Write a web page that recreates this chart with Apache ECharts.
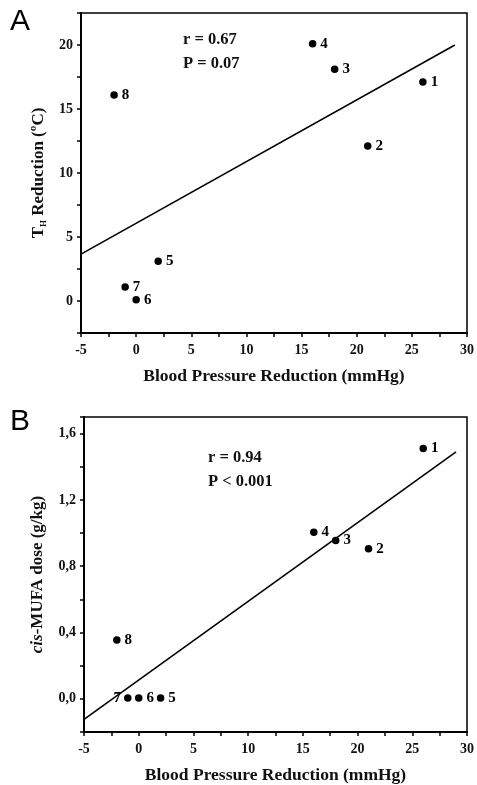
<!DOCTYPE html>
<html><head><meta charset="utf-8">
<script src="https://cdn.jsdelivr.net/npm/echarts@6/dist/echarts.min.js"></script>
<style>html,body{margin:0;padding:0;background:#fff}#c{width:477px;height:785px}</style>
</head><body><div id="c"></div>
<script>
// Panel A data
var ptLabels = ['1','2','3','4','5','6','7','8'];
var bpA = [26, 21, 18, 16, 2, 0, -1, -2];
var thA = [17.1, 12.1, 18.1, 20.1, 3.1, 0.1, 1.1, 16.1];
var fitA = [[-5, 3.66], [28.9, 20.0]];
// Panel B data
var bpB = [26, 21, 18, 16, 2, 0, -1, -2];
var mufaB = [1.51, 0.905, 0.955, 1.005, 0.005, 0.005, 0.005, 0.355];
var fitB = [[-5, -0.124], [29.0, 1.49]];
var statsA = ['r = 0.67', 'P = 0.07'];
var statsB = ['r = 0.94', 'P < 0.001'];

var SERIF = '"Liberation Serif", "DejaVu Serif", serif';
function pts(xs, ys, leftIdx) {
  return xs.map(function (x, i) {
    var d = { value: [x, ys[i]], name: ptLabels[i] };
    if (leftIdx.indexOf(i) >= 0) d.label = { position: 'left', distance: 3 };
    return d;
  });
}
function xAxis(gi) {
  return {
    gridIndex: gi, type: 'value', min: -5, max: 30, interval: 2.5,
    name: 'Blood Pressure Reduction (mmHg)', nameLocation: 'middle', nameGap: 34,
    nameTextStyle: { fontFamily: SERIF, fontWeight: 'bold', fontSize: 17.5, color: '#111' },
    axisLine: { onZero: false, lineStyle: { color: '#000', width: 2 } },
    axisTick: { length: 4, lineStyle: { color: '#000', width: 1.5 } },
    axisLabel: { fontFamily: SERIF, fontWeight: 'bold', fontSize: 14, color: '#111', margin: 10,
      formatter: function (v) { return (Math.abs(v % 5) < 1e-6) ? String(v) : ''; } },
    splitLine: { show: false }
  };
}
var scatterStyle = { color: '#000', opacity: 1 };
var labelStyle = { show: true, position: 'right', distance: 4, formatter: '{b}',
  fontFamily: SERIF, fontWeight: 'bold', fontSize: 15, color: '#000' };

var option = {
  animation: false,
  backgroundColor: '#fff',
  grid: [
    { left: 81, right: 7, top: 13, height: 320, show: true, borderColor: '#000', borderWidth: 1.5, backgroundColor: 'transparent' },
    { left: 84, right: 4, top: 417, height: 320, show: true, borderColor: '#000', borderWidth: 1.5, backgroundColor: 'transparent' }
  ],
  xAxis: [xAxis(0), xAxis(1)],
  yAxis: [
    { gridIndex: 0, type: 'value', min: -2.5, max: 22.5, interval: 2.5,
      name: 'T{sub|H} Reduction (ºC)', nameLocation: 'middle', nameGap: 32, nameRotate: 90,
      nameTextStyle: { fontFamily: SERIF, fontWeight: 'bold', fontSize: 17, color: '#111',
        rich: { sub: { fontFamily: SERIF, fontWeight: 'bold', fontSize: 9, color: '#111', padding: [9, 0, 0, 0] } } },
      axisLine: { onZero: false, lineStyle: { color: '#000', width: 2 } },
      axisTick: { length: 4, lineStyle: { color: '#000', width: 1.5 } },
      axisLabel: { fontFamily: SERIF, fontWeight: 'bold', fontSize: 14, color: '#111', margin: 8,
        formatter: function (v) { return (Math.abs(v % 5) < 1e-6) ? String(v) : ''; } },
      splitLine: { show: false } },
    { gridIndex: 1, type: 'value', min: -0.2, max: 1.7, interval: 0.2,
      name: '{it|cis}-MUFA dose (g/kg)', nameLocation: 'middle', nameGap: 38, nameRotate: 90,
      nameTextStyle: { fontFamily: SERIF, fontWeight: 'bold', fontSize: 17, color: '#111',
        rich: { it: { fontFamily: SERIF, fontWeight: 'bold', fontStyle: 'italic', fontSize: 17, color: '#111' } } },
      axisLine: { onZero: false, lineStyle: { color: '#000', width: 2 } },
      axisTick: { length: 4, lineStyle: { color: '#000', width: 1.5 } },
      axisLabel: { fontFamily: SERIF, fontWeight: 'bold', fontSize: 14, color: '#111', margin: 8,
        formatter: function (v) {
          var k = Math.round(v * 10);
          if (k < 0 || k % 4 !== 0 || Math.abs(v * 10 - k) > 1e-6) return '';
          return (k / 10).toFixed(1).replace('.', ',');
        } },
      splitLine: { show: false } }
  ],
  series: [
    { type: 'line', xAxisIndex: 0, yAxisIndex: 0, data: fitA, symbol: 'none',
      lineStyle: { color: '#000', width: 1.6 }, silent: true },
    { type: 'scatter', xAxisIndex: 0, yAxisIndex: 0, data: pts(bpA, thA, []), symbolSize: 7.5,
      itemStyle: scatterStyle, label: labelStyle },
    { type: 'line', xAxisIndex: 1, yAxisIndex: 1, data: fitB, symbol: 'none',
      lineStyle: { color: '#000', width: 1.6 }, silent: true },
    { type: 'scatter', xAxisIndex: 1, yAxisIndex: 1, data: pts(bpB, mufaB, [6]), symbolSize: 7.5,
      itemStyle: scatterStyle, label: labelStyle }
  ],
  graphic: [
    { type: 'text', left: 10, top: 7, style: { text: 'A', font: '30px "Liberation Sans", Arial, sans-serif', fill: '#000' } },
    { type: 'text', left: 10, top: 407, style: { text: 'B', font: '30px "Liberation Sans", Arial, sans-serif', fill: '#000' } },
    { type: 'text', left: 183, top: 28, style: { text: statsA.join('\n'), font: 'bold 16.5px ' + SERIF, fill: '#111', lineHeight: 24 } },
    { type: 'text', left: 208, top: 446, style: { text: statsB.join('\n'), font: 'bold 16.5px ' + SERIF, fill: '#111', lineHeight: 24 } }
  ]
};
var chart = echarts.init(document.getElementById('c'), null, { renderer: 'canvas' });
chart.setOption(option);
</script></body></html>
